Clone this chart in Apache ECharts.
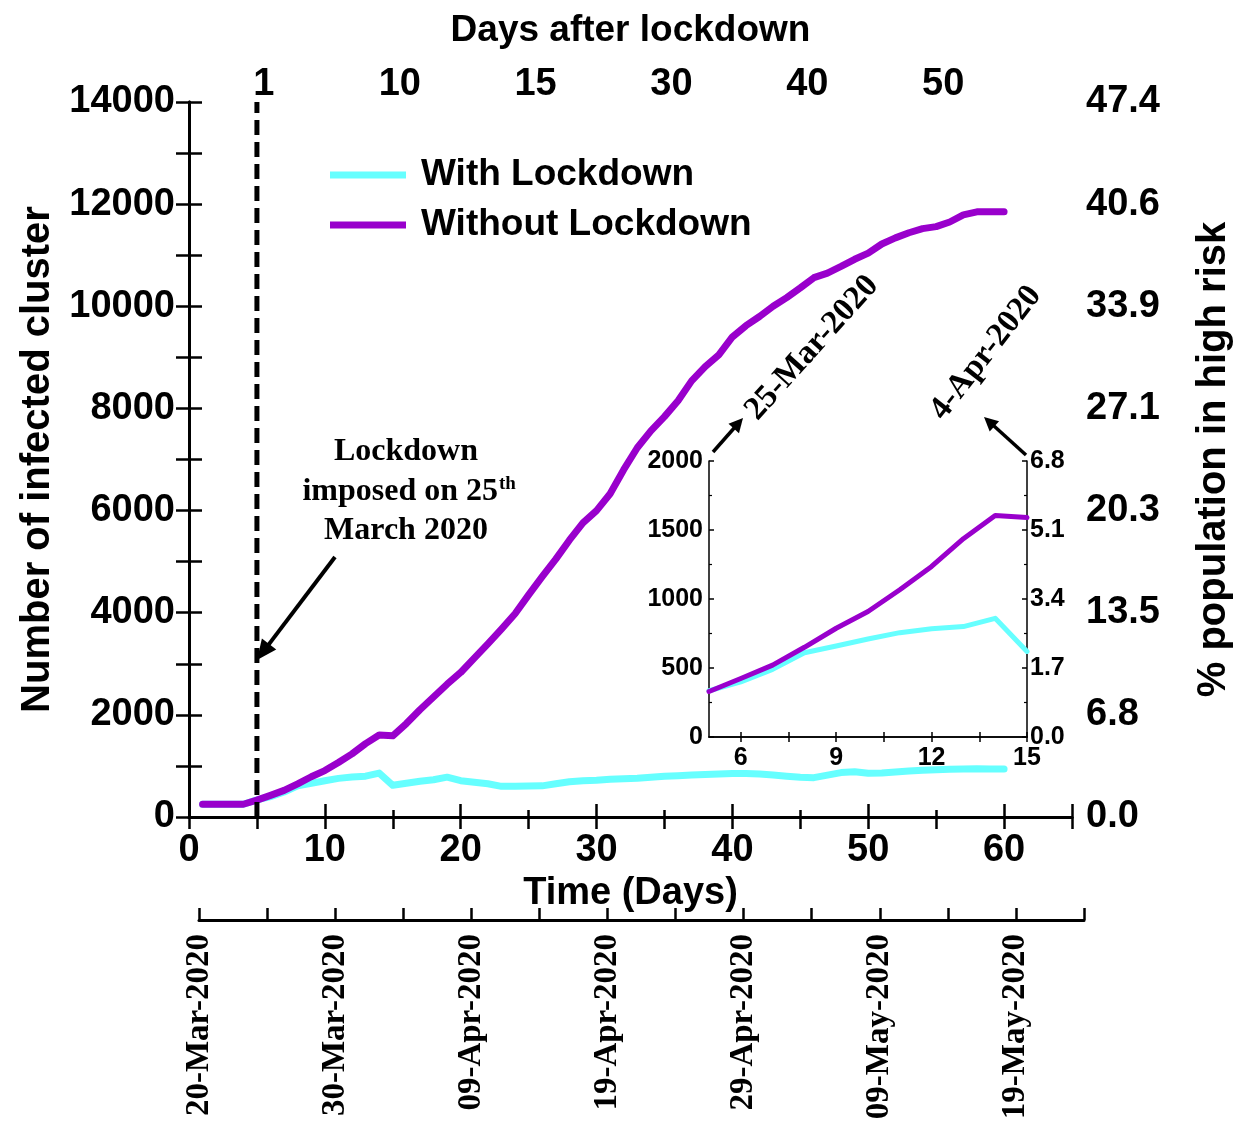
<!DOCTYPE html>
<html><head><meta charset="utf-8">
<script src="https://cdn.jsdelivr.net/npm/echarts@6/dist/echarts.min.js"></script>
<style>html,body{margin:0;padding:0;background:#fff}#c{width:1242px;height:1129px}</style>
</head><body><div id="c"></div>
<script>
// ---------- data ----------
const days = [1,2,3,4,5,6,7,8,9,10,11,12,13,14,15,16,17,18,19,20,21,22,23,24,25,26,27,28,29,30,
              31,32,33,34,35,36,37,38,39,40,41,42,43,44,45,46,47,48,49,50,51,52,53,54,55,56,57,58,59,60];
const withLockdown = [250,250,250,250,335,400,490,611,659,710,756,785,800,860,620,660,700,730,780,710,
                      680,650,600,600,605,610,650,690,710,720,740,750,760,780,800,810,820,830,840,850,
                      850,840,822,800,780,770,820,870,887,855,860,880,900,915,925,934,940,945,940,940];
const withoutLockdown = [250,250,250,250,330,424,521,650,788,909,1067,1236,1437,1605,1590,1830,2100,2350,2600,2830,
                         3110,3390,3680,3980,4350,4705,5050,5420,5760,6000,6330,6800,7230,7560,7840,8150,8540,8820,9050,9400,
                         9620,9800,10000,10170,10360,10560,10650,10780,10920,11040,11220,11340,11440,11520,11560,11650,11790,11850,11850,11850];
const lockdownDay = 5;
const topTickValues = [5,15,25,35,45,55];
const topTickLabels = ['1','10','15','30','40','50'];
const rightTickLabels = ['0.0','6.8','13.5','20.3','27.1','33.9','40.6','47.4'];
const dateTickLabels = ['20-Mar-2020','30-Mar-2020','09-Apr-2020','19-Apr-2020','29-Apr-2020','09-May-2020','19-May-2020'];
const insetXLabels = [6,9,12,15];
const insetXTicks = [6,7.5,9,10.5,12,13.5,15];
const insetRightLabels = ['0.0','1.7','3.4','5.1','6.8'];
const insetRange = [5,15];

// ---------- styles ----------
const SANS = '"Liberation Sans", Arial, sans-serif';
const SERIF = '"Liberation Serif", "Times New Roman", serif';
const CYAN = '#66FFFF', PURPLE = '#9900CC';
const axLine = w => ({show:true, lineStyle:{color:'#000', width:w}});
const tick = (len, w) => ({show:true, inside:true, length:len, lineStyle:{color:'#000', width:w}});
const lab = (size, extra) => Object.assign({fontSize:size, fontWeight:'bold', fontFamily:SANS, color:'#000', formatter:v => String(v)}, extra||{});
const nameStyle = {fontSize:38, fontWeight:'bold', fontFamily:SANS, color:'#000'};

const pts = arr => days.map((d,i)=>[d, arr[i]]);
const insetPts = arr => days.map((d,i)=>[d, arr[i]]).filter(p=>p[0]>=insetRange[0] && p[0]<=insetRange[1]);

function arrow(x1,y1,x2,y2,w,hl,hw){
  const dx=x2-x1, dy=y2-y1, L=Math.hypot(dx,dy), ux=dx/L, uy=dy/L;
  const bx=x2-ux*hl, by=y2-uy*hl;
  return [
    {type:'line', shape:{x1:x1,y1:y1,x2:bx+ux*2,y2:by+uy*2}, style:{stroke:'#000', lineWidth:w}, z:50},
    {type:'polygon', shape:{points:[[x2,y2],[bx-uy*hw,by+ux*hw],[bx+uy*hw,by-ux*hw]]}, style:{fill:'#000'}, z:50}
  ];
}

const chart = echarts.init(document.getElementById('c'), null, {renderer:'canvas'});
const option = {
  animation:false,
  backgroundColor:'#fff',
  grid:[
    {left:189, top:102, width:886, height:715},
    {left:199, top:919, width:885, height:1},
    {left:709, top:461, width:318, height:276}
  ],
  xAxis:[
    { gridIndex:0, type:'value', position:'bottom', min:0, max:65, interval:10,
      axisLine:axLine(3), axisTick:tick(13,2.5),
      minorTick:{show:true, splitNumber:2, length:7, lineStyle:{color:'#000', width:2.5}},
      splitLine:{show:false}, minorSplitLine:{show:false},
      axisLabel:lab(38,{margin:15, formatter:v => (v%10===0 && v<=60) ? String(v) : ''}),
      name:'Time (Days)', nameLocation:'middle', nameGap:56, nameTextStyle:nameStyle },
    { gridIndex:0, type:'value', position:'top', min:0, max:65, interval:5,
      axisLine:axLine(3), axisTick:tick(12,2.5), splitLine:{show:false},
      axisLabel:lab(38,{margin:-2, padding:[0,0,0,14], formatter:v => { const k=topTickValues.indexOf(v); return k>=0 ? topTickLabels[k] : ''; }}),
      name:'Days after lockdown', nameLocation:'middle', nameGap:53, nameTextStyle:Object.assign({}, nameStyle, {fontSize:37}) },
    { gridIndex:1, type:'value', position:'bottom', min:0, max:65, interval:5,
      axisLine:axLine(3), axisTick:tick(12,2.5), splitLine:{show:false},
      axisLabel:{rotate:90, margin:14, fontSize:33, fontWeight:'bold', fontFamily:SERIF, color:'#000',
                 formatter:v => (v%10===0 && v/10 < dateTickLabels.length) ? dateTickLabels[v/10] : ''} },
    { gridIndex:2, type:'value', position:'bottom', min:insetRange[0], max:insetRange[1],
      axisLine:axLine(1.5), axisTick:{show:true, inside:true, length:5, customValues:insetXTicks, lineStyle:{color:'#000', width:1.5}},
      splitLine:{show:false},
      axisLabel:lab(25,{margin:9, customValues:insetXLabels}) },
    { gridIndex:2, type:'value', position:'top', min:insetRange[0], max:insetRange[1],
      axisLine:axLine(1.5), axisTick:{show:true, inside:true, length:5, customValues:insetXTicks, lineStyle:{color:'#000', width:1.5}},
      splitLine:{show:false}, axisLabel:{show:false} }
  ],
  yAxis:[
    { gridIndex:0, type:'value', position:'left', min:0, max:14000, interval:2000,
      axisLine:axLine(3), axisTick:tick(13,2.5),
      minorTick:{show:true, splitNumber:2, length:13, lineStyle:{color:'#000', width:2.5}},
      splitLine:{show:false}, minorSplitLine:{show:false},
      axisLabel:lab(38,{margin:14}),
      name:'Number of infected cluster', nameLocation:'middle', nameGap:131, nameRotate:90,
      nameTextStyle:Object.assign({}, nameStyle, {fontSize:40}) },
    { gridIndex:0, type:'value', position:'right', min:0, max:14000, interval:2000,
      axisLine:axLine(3), axisTick:tick(13,2.5),
      minorTick:{show:true, splitNumber:2, length:13, lineStyle:{color:'#000', width:2.5}},
      splitLine:{show:false}, minorSplitLine:{show:false},
      axisLabel:lab(38,{margin:14, formatter:v => rightTickLabels[Math.round(v/2000)] || ''}),
      name:'% population in high risk', nameLocation:'middle', nameGap:122, nameRotate:90,
      nameTextStyle:Object.assign({}, nameStyle, {fontSize:40}) },
    { gridIndex:1, type:'value', min:0, max:1, show:false },
    { gridIndex:2, type:'value', position:'left', min:0, max:2000, interval:500,
      axisLine:axLine(1.5), axisTick:{show:true, inside:true, length:5, lineStyle:{color:'#000', width:1.5}},
      minorTick:{show:true, splitNumber:2, length:3, lineStyle:{color:'#000', width:1.2}},
      splitLine:{show:false}, minorSplitLine:{show:false},
      axisLabel:lab(25,{margin:6}) },
    { gridIndex:2, type:'value', position:'right', min:0, max:2000, interval:500,
      axisLine:axLine(1.5), axisTick:{show:true, inside:true, length:5, lineStyle:{color:'#000', width:1.5}},
      minorTick:{show:true, splitNumber:2, length:3, lineStyle:{color:'#000', width:1.2}},
      splitLine:{show:false}, minorSplitLine:{show:false},
      axisLabel:lab(25,{margin:3, formatter:v => insetRightLabels[Math.round(v/500)] || ''}) }
  ],
  legend:{
    orient:'vertical', left:325, top:150, itemWidth:76, itemHeight:7, itemGap:10, icon:'rect',
    selectedMode:false, data:['With Lockdown','Without Lockdown'],
    textStyle:{fontSize:37, fontWeight:'bold', fontFamily:SANS, color:'#000', lineHeight:40, padding:[0,0,0,10]}
  },
  series:[
    { name:'With Lockdown', type:'line', xAxisIndex:0, yAxisIndex:0, data:pts(withLockdown), color:CYAN,
      showSymbol:false, lineStyle:{width:7, color:CYAN, cap:'round', join:'round'}, z:2 },
    { name:'Without Lockdown', type:'line', xAxisIndex:0, yAxisIndex:0, data:pts(withoutLockdown), color:PURPLE,
      showSymbol:false, lineStyle:{width:7, color:PURPLE, cap:'round', join:'round'}, z:3 },
    { name:'lockdown', type:'line', xAxisIndex:0, yAxisIndex:0, data:[[lockdownDay,0],[lockdownDay,14000]],
      showSymbol:false, lineStyle:{width:5, color:'#000', type:[15,7]}, z:4 },
    { name:'With Lockdown', type:'line', xAxisIndex:3, yAxisIndex:3, data:insetPts(withLockdown), color:CYAN,
      showSymbol:false, lineStyle:{width:5, color:CYAN, cap:'round', join:'round'}, z:5 },
    { name:'Without Lockdown', type:'line', xAxisIndex:3, yAxisIndex:3, data:insetPts(withoutLockdown), color:PURPLE,
      showSymbol:false, lineStyle:{width:5, color:PURPLE, cap:'round', join:'round'}, z:6 }
  ],
  graphic:[
    {type:'text', x:406, y:452, z:50, style:{text:'Lockdown', fontSize:32, fontWeight:'bold', fontFamily:SERIF, fill:'#000', align:'center', verticalAlign:'middle'}},
    {type:'text', x:498, y:492, z:50, style:{text:'imposed on 25', fontSize:32, fontWeight:'bold', fontFamily:SERIF, fill:'#000', align:'right', verticalAlign:'middle'}},
    {type:'text', x:499, y:484, z:50, style:{text:'th', fontSize:19, fontWeight:'bold', fontFamily:SERIF, fill:'#000', align:'left', verticalAlign:'middle'}},
    {type:'text', x:406, y:531, z:50, style:{text:'March 2020', fontSize:32, fontWeight:'bold', fontFamily:SERIF, fill:'#000', align:'center', verticalAlign:'middle'}},
    {type:'text', x:812, y:348, rotation:48*Math.PI/180, z:50, style:{text:'25-Mar-2020', fontSize:33, fontWeight:'bold', fontFamily:SERIF, fill:'#000', align:'center', verticalAlign:'middle'}},
    {type:'text', x:986, y:353, rotation:52*Math.PI/180, z:50, style:{text:'4-Apr-2020', fontSize:33, fontWeight:'bold', fontFamily:SERIF, fill:'#000', align:'center', verticalAlign:'middle'}}
  ].concat(
    arrow(335,557,257,660,4,20,9),
    arrow(713,452,743,418,3.5,14,7),
    arrow(1026,455,984,417,3.5,14,7)
  )
};
chart.setOption(option);
</script></body></html>
